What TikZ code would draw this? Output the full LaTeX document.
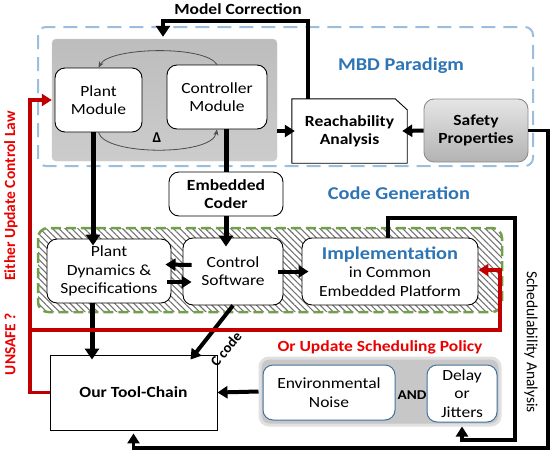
\documentclass[tikz,border=0pt]{standalone}
\usepackage{fontspec}
\setmainfont{Carlito}[FakeStretch=1.13]
\newfontfamily\rotfont{Carlito}
\usetikzlibrary{arrows.meta,patterns.meta,calc}
\definecolor{mbdblue}{RGB}{155,190,222}
\definecolor{titleblue}{RGB}{46,117,182}
\definecolor{hatchgreen}{RGB}{112,160,72}
\definecolor{linered}{RGB}{192,0,0}
\definecolor{textred}{RGB}{235,0,0}
\definecolor{boxblue}{RGB}{65,113,156}
\newcommand\myfs{\fontsize{15.5}{18.3}\selectfont}
\tikzset{
  box/.style={draw=black, line width=0.9pt, fill=white, rounded corners=10pt, align=center, inner sep=0pt, font=\myfs},
  arr/.style={line width=4pt, -{Triangle[length=10pt,width=12pt]}},
  varr/.style={line width=5pt, -{Triangle[length=11pt,width=14pt]}},
  redarr/.style={draw=linered, line width=3.5pt, -{Triangle[length=10pt,width=12pt]}},
  thinarr/.style={draw=black!70, line width=0.8pt, -{Stealth[length=6pt,width=5pt]}},
  outline/.style={line width=3.5pt, -{Triangle[length=10pt,width=12pt]}},
  lbl/.style={inner sep=0pt}
}
\begin{document}
\begin{tikzpicture}[x=1pt,y=-1pt]
\useasboundingbox (0,0) rectangle (557,456);
% containers
\draw[mbdblue, line width=2pt, dash pattern=on 14pt off 8pt, rounded corners=8pt] (38,27) rectangle (533,166);
\node[draw=black!20, top color=black!26, bottom color=black!20, rounded corners=4pt, minimum width=225pt, minimum height=122pt] (mbdgrey) at (164.5,100) {};
\draw[pattern={Lines[angle=-45,distance=4.5pt,line width=1.1pt]}, pattern color=black!55, draw=hatchgreen, line width=2.5pt, dash pattern=on 10pt off 5pt, rounded corners=10pt] (38,228) rectangle (502,312);
\node[fill=black!22, draw=black!12, line width=3pt, rounded corners=9pt, minimum width=240pt, minimum height=67pt] (grp) at (380,391.5) {};
% nodes
\node[box, minimum width=87pt, minimum height=64pt] (plant) at (98.5,100) {Plant\\Module};
\node[box, minimum width=100pt, minimum height=64pt] (ctrl) at (217,97) {Controller\\Module};
\node[lbl, minimum width=115pt, minimum height=64pt, align=center, font=\myfs\bfseries] (reach) at (349.5,131) {Reachability\\Analysis};
\draw[line width=0.9pt, fill=white] (reach.south west) -- (reach.north west) -- ($(reach.north east)+(-12,0)$) -- ($(reach.north east)+(0,11)$) -- (reach.south east) -- cycle;
\node[lbl, align=center, font=\myfs\bfseries] at (reach) {Reachability\\Analysis};
\node[box, draw=black!45, top color=black!10, bottom color=black!30, minimum width=104pt, minimum height=63pt, font=\myfs\bfseries] (safety) at (476,130.5) {Safety\\Properties};
\node[box, minimum width=114pt, minimum height=44pt, font=\myfs\bfseries] (coder) at (226,194) {Embedded\\Coder};
\node[box, minimum width=124pt, minimum height=64pt] (plantdyn) at (109,271) {Plant\\Dynamics \&\\Specifications};
\node[box, minimum width=100pt, minimum height=67pt] (ctrlsw) at (233,271.5) {Control\\Software};
\node[box, minimum width=176pt, minimum height=67pt] (impl) at (390,271.5) {\textcolor{titleblue}{\fontsize{18}{20}\selectfont\bfseries Implementation}\\in Common\\Embedded Platform};
\node[draw=black, line width=0.9pt, fill=white, minimum width=167pt, minimum height=75pt, font=\myfs\bfseries] (tool) at (133.5,392.5) {Our Tool-Chain};
\node[box, draw=boxblue, line width=1pt, minimum width=132pt, minimum height=55pt, font=\fontsize{15.5}{19.5}\selectfont] (env) at (329,392.5) {Environmental\\Noise};
\node[box, draw=boxblue, line width=1pt, minimum width=70pt, minimum height=57pt] (delay) at (462,393.5) {Delay\\or\\Jitters};
\node[lbl, font=\fontsize{13.5}{15}\selectfont\bfseries] (andlbl) at (412,395) {AND};
% labels
\node[lbl, font=\myfs\bfseries] (mclbl) at (238,9) {Model Correction};
\node[lbl, font=\fontsize{18}{20}\selectfont\bfseries, text=titleblue] (mbdlbl) at (401,66) {MBD Paradigm};
\node[lbl, font=\fontsize{18}{20}\selectfont\bfseries, text=titleblue] (cglbl) at (399,193) {Code Generation};
\node[lbl, font=\myfs\bfseries, text=textred] (osp) at (380,347.5) {Or Update Scheduling Policy};
\node[lbl, rotate=90, font=\rotfont\fontsize{15.5}{18}\selectfont\bfseries, text=textred] (eucl) at (11,196) {Either Update Control Law};
\node[lbl, rotate=90, font=\rotfont\fontsize{15.5}{18}\selectfont\bfseries, text=textred] (unsafe) at (10,344) {UNSAFE ?};
\node[lbl, rotate=-90, font=\rotfont\fontsize{15.5}{18}\selectfont] (schlbl) at (531,342) {Schedulability Analysis};
\node[lbl, rotate=50, font=\rotfont\fontsize{14.5}{16}\selectfont\bfseries] (ccode) at (226,349) {C code};
\node[lbl, font=\rotfont\fontsize{15}{16}\selectfont\bfseries] (delta) at (157,138) {Δ};
% coordinates
\coordinate (mcr) at (308,21);
\coordinate (mcl) at (163,21);
\coordinate (rx) at (30,100);
\coordinate (rb) at (30,330);
\coordinate (rc) at (500,330);
\coordinate (sa) at (515,218);
\coordinate (sb) at (515,440);
\coordinate (ob) at (548,448);
% connectors
\draw[thinarr] (ctrl.north) .. controls (205,45) and (110,47) .. (plant.north);
\draw[thinarr] (plant.south) .. controls (105,156) and (212,156) .. (ctrl.south);
\draw[arr] (reach.west -| mbdgrey.east) -- ([xshift=3pt]reach.west);
\draw[arr] (safety.west) -- ([xshift=-5pt]reach.east);
\draw[outline, -{Triangle[length=11pt,width=14pt]}] (mcr |- reach.north) -- (mcr) -- (mcl) -- ([yshift=2pt]mcl |- mbdgrey.north);
\draw[varr] ([xshift=-5.5pt]plant.south) -- ([xshift=-16pt,yshift=-7pt]plantdyn.north);
\draw[line width=5pt] (coder.north |- ctrl.south) -- (coder.north);
\draw[varr] (coder.south) -- ([yshift=-9pt]coder.south |- ctrlsw.north);
\draw[arr] ($(ctrlsw.west)+(9,-6.5)$) -- ($(plantdyn.east)+(-6,-6.5)$);
\draw[arr] ($(plantdyn.east)+(-4,11)$) -- ($(ctrlsw.west)+(9,10.5)$);
\draw[arr] ($(ctrlsw.east)+(-5,0)$) -- ($(impl.west)+(7,0)$);
\draw[varr] ([xshift=-17pt]plantdyn.south) -- ([xshift=-41.5pt,yshift=-5pt]tool.north);
\draw[arr] (ctrlsw.south) -- ($(tool.north east)+(-27,5)$);
\draw[arr] (grp.west) -- (tool.east);
\draw[outline] (safety.east) -| (ob) -| ([yshift=-3pt]tool.south);
\draw[outline] ([xshift=-2pt]impl.north) |- (sa) -- (sb) -| (grp.south -| delay.south);
\draw[redarr] (tool.west) -| (rx) -- (mbdgrey.west);
\draw[redarr] (rb) -- (rc) |- ([yshift=1.5pt]impl.east);
\end{tikzpicture}
\end{document}
